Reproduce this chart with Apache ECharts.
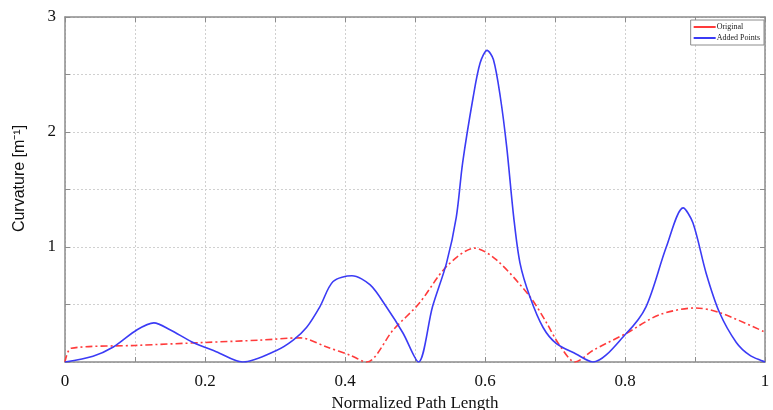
<!DOCTYPE html>
<html>
<head>
<meta charset="utf-8">
<script src="https://cdn.jsdelivr.net/npm/echarts@6/dist/echarts.min.js"></script>
<style>
  html, body { margin: 0; padding: 0; background: #fff; }
  #chart { width: 773px; height: 410px; }
</style>
</head>
<body>
<div id="chart"></div>
<script>
// Curvature along the normalized path: original path vs. path with added points
const origX  = [0, 0.009, 0.1, 0.2, 0.278, 0.336, 0.374, 0.407, 0.431, 0.469, 0.506, 0.545, 0.585, 0.616, 0.664, 0.688, 0.706, 0.729, 0.754, 0.802, 0.849, 0.901, 0.935, 1.0];
const origY  = [0, 0.12, 0.144, 0.17, 0.19, 0.21, 0.13, 0.06, 0, 0.28, 0.51, 0.83, 0.99, 0.89, 0.57, 0.34, 0.15, 0, 0.10, 0.25, 0.41, 0.47, 0.43, 0.26];

const addedX = [0, 0.04, 0.069, 0.103, 0.127, 0.15, 0.183, 0.216, 0.254, 0.302, 0.326, 0.345, 0.364, 0.383, 0.41, 0.436, 0.459, 0.483, 0.505, 0.525, 0.545, 0.559, 0.568, 0.583, 0.593, 0.603, 0.612, 0.622, 0.631, 0.641, 0.65, 0.664, 0.683, 0.702, 0.73, 0.754, 0.802, 0.83, 0.859, 0.883, 0.897, 0.916, 0.935, 0.959, 0.978, 1.0];
const addedY = [0, 0.05, 0.13, 0.28, 0.34, 0.28, 0.17, 0.09, 0, 0.1, 0.19, 0.3, 0.48, 0.70, 0.75, 0.67, 0.48, 0.25, 0, 0.48, 0.86, 1.26, 1.73, 2.30, 2.6, 2.71, 2.63, 2.30, 1.87, 1.26, 0.86, 0.57, 0.30, 0.16, 0.07, 0, 0.25, 0.48, 1.0, 1.34, 1.21, 0.77, 0.43, 0.17, 0.06, 0];

const xTickLabels = ['0', '0.2', '0.4', '0.6', '0.8', '1'];
const yTickLabels = ['1', '2', '3'];

const pairs = (xs, ys) => xs.map((x, i) => [x, ys[i]]);

const serif = 'Liberation Serif';
const frameColor = '#8c8c8c';
const gridColor = '#d0d0d0';

function xLabel(v) {
  const s = String(Math.round(v * 10) / 10);
  return xTickLabels.includes(s) ? s : '';
}
function yLabel(v) {
  const s = String(Math.round(v * 10) / 10);
  return yTickLabels.includes(s) ? s : '';
}

const chart = echarts.init(document.getElementById('chart'), null, { renderer: 'canvas' });
chart.setOption({
  animation: false,
  backgroundColor: '#fff',
  grid: { left: 65, right: 8, top: 17, bottom: 48, containLabel: false, outerBoundsMode: 'none' },
  legend: {
    right: 9, top: 20,
    orient: 'vertical',
    itemWidth: 22, itemHeight: 2, itemGap: 3,
    padding: [3, 4, 3, 3],
    backgroundColor: '#fff',
    borderColor: '#8c8c8c', borderWidth: 1,
    textStyle: { fontFamily: serif, fontSize: 8, color: '#222', padding: [0, 0, 0, -4] },
    data: [
      { name: 'Original', icon: 'rect' },
      { name: 'Added Points', icon: 'rect' }
    ]
  },
  xAxis: [{
    type: 'value', min: 0, max: 1, interval: 0.1,
    name: 'Normalized Path Length', nameLocation: 'middle', nameGap: 32,
    nameTextStyle: { fontFamily: serif, fontSize: 17, color: '#111' },
    axisLine: { show: true, onZero: false, lineStyle: { color: frameColor, width: 1.5 } },
    axisTick: { show: true, inside: true, length: 5, lineStyle: { color: frameColor } },
    axisLabel: { formatter: xLabel, fontFamily: serif, fontSize: 17, color: '#111', margin: 11, showMinLabel: true, showMaxLabel: true },
    splitLine: { show: true, lineStyle: { color: gridColor, type: [2, 2], width: 1 } }
  }, {
    type: 'value', min: 0, max: 1, interval: 0.1, position: 'top',
    axisLine: { show: true, onZero: false, lineStyle: { color: frameColor, width: 1.5 } },
    axisTick: { show: true, inside: true, length: 5, lineStyle: { color: frameColor } },
    axisLabel: { show: false },
    splitLine: { show: false }
  }],
  yAxis: [{
    type: 'value', min: 0, max: 3, interval: 0.5,
    name: 'Curvature [m\u207B\u00B9]', nameLocation: 'middle', nameGap: 37,
    nameTextStyle: { fontFamily: 'Liberation Sans', fontSize: 16, color: '#111', padding: [0, 0, 0, 22] },
    axisLine: { show: true, onZero: false, lineStyle: { color: frameColor, width: 1.5 } },
    axisTick: { show: true, inside: true, length: 5, lineStyle: { color: frameColor } },
    axisLabel: { formatter: yLabel, fontFamily: serif, fontSize: 17, color: '#111', margin: 9 },
    splitLine: { show: true, lineStyle: { color: gridColor, type: [2, 2], width: 1 } }
  }, {
    type: 'value', min: 0, max: 3, interval: 0.5, position: 'right',
    axisLine: { show: true, onZero: false, lineStyle: { color: frameColor, width: 1.5 } },
    axisTick: { show: true, inside: true, length: 5, lineStyle: { color: frameColor } },
    axisLabel: { show: false },
    splitLine: { show: false }
  }],
  series: [{
    name: 'Original', type: 'line',
    data: pairs(origX, origY),
    showSymbol: false, smooth: 0.3, clip: true,
    color: '#ff3b3b',
    lineStyle: { color: '#ff3b3b', width: 1.6, type: [7, 3, 2, 3] }
  }, {
    name: 'Added Points', type: 'line',
    data: pairs(addedX, addedY),
    showSymbol: false, smooth: 0.3, clip: true,
    color: '#3b3bf5',
    lineStyle: { color: '#3b3bf5', width: 1.6 }
  }]
});
</script>
</body>
</html>
